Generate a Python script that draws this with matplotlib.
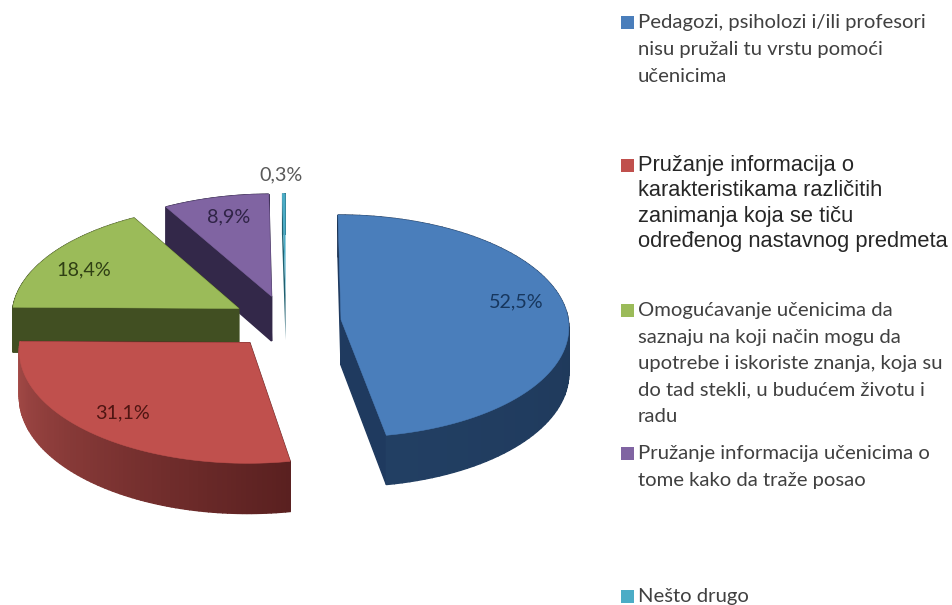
import numpy as np
import matplotlib
matplotlib.use("Agg")
import matplotlib.pyplot as plt
from matplotlib.colors import to_rgb
from matplotlib.patches import Rectangle

# ---- data ----
value_labels = ["52,5%", "31,1%", "18,4%", "8,9%", "0,3%"]
values = [52.5, 31.1, 18.4, 8.9, 0.3]
categories = [
    "Pedagozi, psiholozi i/ili profesori\nnisu pružali tu vrstu pomoći\nučenicima",
    "Pružanje informacija o\nkarakteristikama različitih\nzanimanja koja se tiču\nodređenog nastavnog predmeta",
    "Omogućavanje učenicima da\nsaznaju na koji način mogu da\nupotrebe i iskoriste znanja, koja su\ndo tad stekli, u budućem životu i\nradu",
    "Pružanje informacija učenicima o\ntome kako da traže posao",
    "Nešto drugo",
]

# ---- style and layout ----
top_colors = ["#4a7ebb", "#c0504d", "#9bbb59", "#8064a2", "#4bacc6"]
cut_colors = ["#1f3a5f", "#5a2020", "#414f22", "#332849", "#1f6070"]
wall_from = ["#1b3251", "#5a2020", "#414f22", "#332849", "#1f6070"]
wall_to = ["#223f63", "#a84c49", "#414f22", "#332849", "#1f6070"]
edge_width = [1.0, 1.0, 1.0, 1.0, 0.0]
draw_order = [3, 4, 2, 1, 0]
label_xy = [(516, 302), (122, 413), (84, 270), (229, 217), (281, 175)]
label_colors = ["#17375e", "#4f1512", "#2f3f14", "#2f2346", "#595959"]
legend_first_y = [22.5, 165.5, 310.5, 453.5, 596.5]
legend_pitch = [26.8, 25.5, 26.6, 27, 0]
legend_square_y = [22.5, 165.5, 310, 453.5, 596]
legend_family = ["Lato", "Liberation Sans", "Lato", "Lato", "Lato"]
legend_size = [14.6, 15.75, 14.6, 14.6, 14.6]
legend_color = ["#404040", "#262626", "#404040", "#404040", "#404040"]

CX, CY, RX, RY = 286.0, 322.0, 227.5, 111.0
EXPLODE, PERSP, DEPTH, DEPTH_PERSP = 0.243, 0.058, 45.5, 0.08


def project(u, v, z=0.0):
    w = 1 - PERSP * v
    return CX + RX * u / w, CY + RY * v / w + z * DEPTH / (1 - DEPTH_PERSP * v)


fig = plt.figure(figsize=(9.52, 6.05), dpi=100, facecolor="white")
ax = fig.add_axes([0, 0, 1, 1])
ax.set_xlim(0, 952)
ax.set_ylim(605, 0)
ax.axis("off")

fractions = np.array(values) / np.sum(values)
ends = np.cumsum(fractions) * 2 * np.pi
starts = ends - fractions * 2 * np.pi

for i in draw_order:
    t = np.linspace(starts[i], ends[i], 90)
    mid = (starts[i] + ends[i]) / 2
    u0, v0 = EXPLODE * np.sin(mid), -EXPLODE * np.cos(mid)
    us, vs = u0 + np.sin(t), v0 - np.cos(t)

    faces = []
    for (ua, va), (ub, vb) in [((u0, v0), (us[0], vs[0])), ((u0, v0), (us[-1], vs[-1]))]:
        xs = [project(ua, va)[0], project(ub, vb)[0], project(ub, vb, 1)[0], project(ua, va, 1)[0]]
        ys = [project(ua, va)[1], project(ub, vb)[1], project(ub, vb, 1)[1], project(ua, va, 1)[1]]
        faces.append(((va + vb) / 2, xs, ys, to_rgb(cut_colors[i])))
    c1, c2 = np.array(to_rgb(wall_from[i])), np.array(to_rgb(wall_to[i]))
    for j in range(len(t) - 1):
        a = j / (len(t) - 2)
        xa, ya = project(us[j], vs[j])
        xb, yb = project(us[j + 1], vs[j + 1])
        xc, yc = project(us[j + 1], vs[j + 1], 1)
        xd, yd = project(us[j], vs[j], 1)
        faces.append(((vs[j] + vs[j + 1]) / 2 + 0.5, [xa, xb, xc, xd], [ya, yb, yc, yd],
                      tuple(c1 + (c2 - c1) * a)))
    for _, xs, ys, col in sorted(faces, key=lambda f: f[0]):
        ax.fill(xs, ys, color=col, lw=edge_width[i])

    tx, ty = project(np.r_[u0, us], np.r_[v0, vs])
    ax.fill(tx, ty, color=top_colors[i], lw=0.4 * edge_width[i])

for txt, (x, y), col in zip(value_labels, label_xy, label_colors):
    ax.text(x, y, txt, ha="center", va="center", fontsize=14.2, color=col,
            family="Lato", zorder=20)

for i, cat in enumerate(categories):
    ax.add_patch(Rectangle((620.5, legend_square_y[i] - 6.5), 13, 13,
                           facecolor=top_colors[i], edgecolor="none", zorder=20))
    for n, line in enumerate(cat.split("\n")):
        ax.text(638, legend_first_y[i] + n * legend_pitch[i], line, ha="left", va="center",
                fontsize=legend_size[i], family=legend_family[i], color=legend_color[i], zorder=20)

fig.savefig("out.png", dpi=100, facecolor="white")
